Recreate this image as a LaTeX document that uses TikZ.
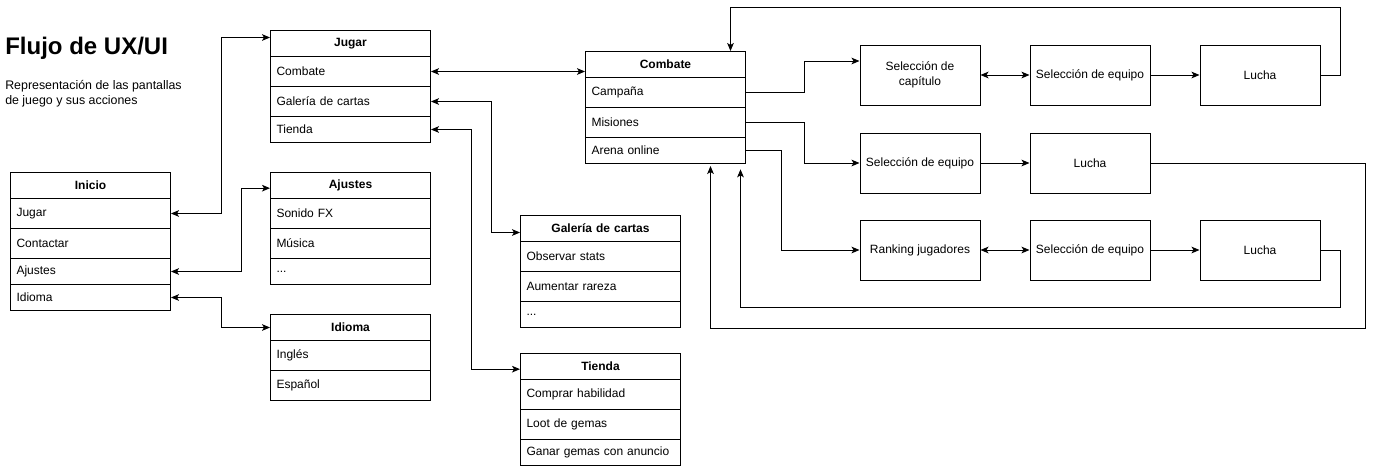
\documentclass[tikz,border=0pt]{standalone}
\usepackage{fontspec}
\setmainfont{Liberation Sans}
\usetikzlibrary{arrows.meta}
\tikzset{
  hdr/.style={draw,line width=0.75pt,anchor=north west,text width=111pt,inner xsep=4.5pt,inner ysep=0pt,
    align=center,minimum height=19.5pt,font=\fontsize{9}{11}\selectfont\bfseries},
  row/.style={draw,line width=0.75pt,anchor=north west,text width=111pt,inner xsep=4.5pt,inner ysep=0pt,
    align=left,minimum height=22.5pt,font=\fontsize{9}{11}\selectfont},
  rowlow/.style={row,minimum height=19.5pt},
  scr/.style={draw,line width=0.75pt,minimum width=90pt,minimum height=45pt,align=center,
    font=\fontsize{9}{11.25}\selectfont},
  tip/.tip={Stealth[length=6pt,width=5pt,inset=1.5pt]},
  lnk/.style={line width=0.75pt,-tip},
  dbl/.style={line width=0.75pt,tip-tip}
}
\begin{document}
\begin{tikzpicture}[x=0.75pt,y=-0.75pt]
%\draw[help lines,step=10] (0,0) grid (1379,468);
\useasboundingbox (0,0) rectangle (1379,468);

\node[anchor=west,inner sep=0pt,font=\fontsize{18}{21}\selectfont\bfseries] (title) at (5,48) {Flujo de UX/UI};
\node[anchor=north west,inner sep=0pt,align=left,font=\fontsize{9.3}{11.25}\selectfont] (subtitle) at (5,80)
  {Representación de las pantallas\\de juego y sus acciones};

% inicio
\node[hdr] (inicio) at (10,172) {Inicio};
\node[row] (inijug) at (10,198) {Jugar};
\node[row] (inicon) at (10,228) {Contactar};
\node[rowlow] (iniaju) at (10,258) {Ajustes};
\node[rowlow] (iniidi) at (10,284) {Idioma};

% jugar
\node[hdr] (jugar) at (270,30) {Jugar};
\node[row] (jugcomb) at (270,56) {Combate};
\node[row] (juggal) at (270,86) {Galería de cartas};
\node[rowlow] (jugtie) at (270,116) {Tienda};

% ajustes
\node[hdr] (ajustes) at (270,172) {Ajustes};
\node[row] (ajuson) at (270,198) {Sonido FX};
\node[row] (ajumus) at (270,228) {Música};
\node[rowlow] (ajumas) at (270,258) {...};

% idioma
\node[hdr] (idioma) at (270,314) {Idioma};
\node[row] (idiing) at (270,340) {Inglés};
\node[row] (idiesp) at (270,370) {Español};

% combate
\node[hdr] (combate) at (585,51) {Combate};
\node[row] (comcamp) at (585,77) {Campaña};
\node[row] (commis) at (585,107) {Misiones};
\node[rowlow] (comare) at (585,137) {Arena online};

% galeria
\node[hdr] (galeria) at (520,215) {Galería de cartas};
\node[row] (galobs) at (520,241) {Observar stats};
\node[row] (galaum) at (520,271) {Aumentar rareza};
\node[rowlow] (galmas) at (520,301) {...};

% tienda
\node[hdr] (tienda) at (520,353) {Tienda};
\node[row] (tiecom) at (520,379) {Comprar habilidad};
\node[row] (tieloot) at (520,409) {Loot de gemas};
\node[rowlow] (tiegan) at (520,439) {Ganar gemas con anuncio};

% pantallas de combate
\node[scr] (capitulo) at (920,75) {Selección de\\capítulo};
\node[scr] (equipoa) at (1090,75) {Selección de equipo};
\node[scr] (luchaa) at (1260,75) {Lucha};
\node[scr] (equipob) at (920,163) {Selección de equipo};
\node[scr] (luchab) at (1090,163) {Lucha};
\node[scr] (ranking) at (920,250) {Ranking jugadores};
\node[scr] (equipoc) at (1090,250) {Selección de equipo};
\node[scr] (luchac) at (1260,250) {Lucha};

% enlaces izquierda
\draw[dbl] (inijug.east) -- ++(50,0) |- ([yshift=4.5pt]jugar.west);
\draw[dbl] (iniaju.east) -- ++(70,0) |- ([yshift=-2pt]ajustes.west);
\draw[dbl] (iniidi.east) -- ++(50,0) |- (idioma.west);
\draw[dbl] (jugcomb.east) -- (jugcomb.east -| combate.west);
\draw[dbl] (juggal.east) -- ++(60,0) |- ([yshift=-3pt]galeria.west);
\draw[dbl] (jugtie.east) -- ++(40,0) |- ([yshift=-2pt]tienda.west);

% enlaces combate
\draw[lnk] (comcamp.east) -- ++(58,0) |- ([yshift=10.5pt]capitulo.west);
\draw[lnk] (commis.east) -- ++(58,0) |- (equipob.west);
\draw[lnk] (comare.east) -- ++(35,0) |- (ranking.west);
\draw[dbl] (capitulo) -- (equipoa);
\draw[lnk] (equipoa) -- (luchaa);
\draw[lnk] (equipob) -- (luchab);
\draw[dbl] (ranking) -- (equipoc);
\draw[lnk] (equipoc) -- (luchac);

% vuelta a combate
\draw[lnk] (luchaa.east) -- ++(20,0) -- ++(0,-68) -| ([xshift=48.75pt]combate.north);
\draw[lnk] (luchab.east) -- ++(215,0) -- ++(0,165) -| ([xshift=33.75pt,yshift=-1.5pt]comare.south);
\draw[lnk] (luchac.east) -- ++(20,0) -- ++(0,57) -| ([xshift=56.25pt,yshift=-4pt]comare.south);
\end{tikzpicture}
\end{document}
